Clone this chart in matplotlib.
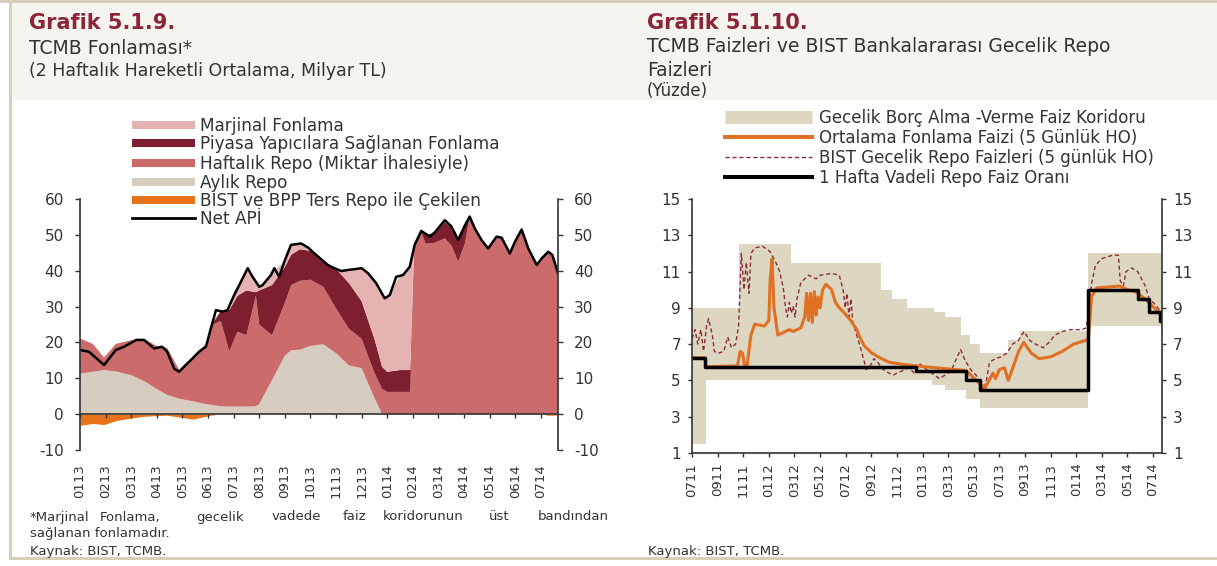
import matplotlib.pyplot as plt
from matplotlib.lines import Line2D
from matplotlib.patches import Rectangle

plt.rcParams['font.family'] = ['DejaVu Sans']
plt.rcParams['axes.unicode_minus'] = False

# --- Grafik 5.1.9: TCMB funding (x = months since Jan 2013) ---
fon_x = [0, 0.5, 0.94, 1.4, 2.0, 2.5, 3.0, 3.4, 3.87, 4.4,
         4.92, 5.2, 5.5, 5.83, 6.15, 6.5, 6.87, 7.0, 7.5, 8.0,
         8.25, 8.6, 9.0, 9.5, 10.0, 10.5, 11.0, 11.5, 11.8, 12.0,
         12.5, 12.9, 13.05, 13.33, 13.5, 13.86, 14.25, 14.51, 14.77, 15.03,
         15.22, 15.42, 15.68, 15.94, 16.27, 16.47, 16.79, 16.99, 17.25, 17.51,
         17.84, 18.03, 18.29, 18.45, 18.67]
aylik_repo = [11.3, 11.8, 12.3, 11.9, 10.9, 9.2, 7.0, 5.4, 4.3, 3.6,
              2.8, 2.5, 2.2, 2.1, 2.1, 2.1, 2.2, 2.8, 9.5, 16.3,
              17.8, 18.0, 19.0, 19.5, 17.0, 13.6, 12.8, 4.5, 0, 0,
              0, 0, 0, 0, 0, 0, 0, 0, 0, 0,
              0, 0, 0, 0, 0, 0, 0, 0, 0, 0,
              0, 0, 0, 0, 0]
haftalik_repo = [9.8, 7.8, 3.5, 7.7, 9.7, 11.8, 12.0, 13.1, 8.1, 12.2,
                 16.2, 22.5, 23.8, 15.4, 20.9, 19.9, 30.8, 22.2, 12.5, 14.7,
                 18.2, 19.2, 18.5, 16.0, 12.5, 10.2, 8.2, 7.0, 7.0, 6.2,
                 6.2, 6.2, 46.5, 50.8, 47.5, 47.8, 49.0, 47.0, 42.5, 47.5,
                 55.0, 51.8, 48.6, 46.2, 49.5, 49.2, 44.8, 48.1, 51.5, 46.2,
                 41.6, 43.4, 45.3, 44.4, 39.3]
piyasa_yapici = [0, 0, 0, 0, 0, 0, 0, 0, 0, 0,
                 0, 0.5, 2.8, 11.5, 10.0, 12.5, 1.0, 9.5, 14.0, 10.0,
                 8.5, 8.8, 8.0, 6.8, 11.0, 12.8, 10.5, 9.5, 6.2, 5.6,
                 6.1, 6.1, 0, 0, 2.5, 2.7, 4.5, 5.0, 5.9, 4.9,
                 0, 0, 0, 0, 0, 0, 0, 0, 0, 0,
                 0, 0, 0, 0, 0]
marjinal = [0, 0, 0, 0, 0, 0, 0, 0, 0, 0.2,
            0.8, 0.5, 0, 0, 2.0, 6.0, 3.0, 1.0, 3.5, 1.5,
            2.7, 1.6, 0.8, 0, 0, 3.6, 9.2, 16.2, 19.8, 20.7,
            26.2, 28.9, 0, 0.2, 0, 0.2, 0.6, 0.3, 0.2, 0.2,
            0, 0, 0, 0, 0, 0, 0, 0, 0, 0,
            0, 0, 0, 0, 0]
bist_bpp_ters = [-3.1, -2.6, -2.9, -1.8, -1.1, -0.6, -0.4, -0.3, -0.8, -1.4,
                 -0.6, -0.2, 0, 0, 0, 0, 0, 0, 0, 0,
                 0, 0, 0, 0, 0, 0, 0, 0, 0, 0,
                 0, 0, 0, 0, 0, 0, 0, 0, 0, 0,
                 0, 0, 0, 0, 0, 0, 0, 0, 0, 0,
                 0, 0, -0.3, -0.3, -0.2]

net_api_x = [0, 0.35, 0.94, 1.4, 1.72, 2.2, 2.5, 2.9, 3.2, 3.4,
             3.68, 3.87, 4.13, 4.39, 4.65, 4.92, 5.11, 5.31, 5.57, 5.76,
             6.02, 6.22, 6.55, 6.74, 7.0, 7.13, 7.46, 7.59, 7.78, 7.98,
             8.24, 8.63, 8.9, 9.16, 9.68, 9.81, 10.2, 10.46, 11.0, 11.25,
             11.57, 11.9, 12.1, 12.35, 12.62, 12.88, 13.07, 13.33, 13.66, 13.86,
             14.25, 14.51, 14.77, 15.03, 15.22, 15.42, 15.68, 15.94, 16.27, 16.47,
             16.79, 16.99, 17.25, 17.51, 17.84, 18.03, 18.29, 18.45, 18.67]
net_api = [17.9, 17.4, 13.7, 17.9, 18.8, 20.7, 20.7, 18.3, 18.8, 17.5,
           12.7, 11.8, 13.7, 15.5, 17.4, 18.8, 23.9, 29.0, 28.6, 29.0,
           33.2, 36.0, 40.7, 38.3, 35.5, 36.0, 38.8, 40.7, 38.3, 42.5,
           47.2, 47.6, 46.5, 44.8, 41.6, 41.1, 39.9, 40.2, 40.7, 39.3,
           36.5, 32.3, 33.2, 38.3, 38.8, 41.1, 47.2, 51.1, 49.5, 50.7,
           54.1, 52.3, 48.6, 52.6, 55.1, 51.8, 48.6, 46.2, 49.5, 49.2,
           44.8, 48.1, 51.5, 46.2, 41.6, 43.4, 45.3, 44.4, 39.3]

ay_etiket = ['0113', '0213', '0313', '0413', '0513', '0613', '0713', '0813', '0913', '1013',
             '1113', '1213', '0114', '0214', '0314', '0414', '0514', '0614', '0714']

# --- Grafik 5.1.10: rates (x = months since Jul 2011) ---
koridor_x = [0, 1.08, 3.70, 7.75, 14.75, 15.65, 16.77, 18.72, 18.87, 19.77,
             20.97, 21.42, 21.72, 22.48, 24.64, 25.63, 30.89, 36.7]
koridor_alt = [1.5, 5.0, 5.0, 5.0, 5.0, 5.0, 5.0, 4.75, 4.75, 4.5,
               4.5, 4.0, 4.0, 3.5, 3.5, 3.5, 8.0, 8.0]
koridor_ust = [9.0, 9.0, 12.5, 11.5, 10.0, 9.5, 9.0, 9.0, 8.75, 8.5,
               7.5, 7.5, 7.0, 6.5, 7.25, 7.75, 12.0, 12.0]

fonlama_x = [0, 1.0, 1.1, 3.55, 3.76, 3.95, 4.1, 4.3, 4.6, 4.9,
             5.65, 6.0, 6.1, 6.25, 6.4, 6.7, 7.0, 7.6, 7.9, 8.5,
             8.8, 8.95, 9.1, 9.25, 9.4, 9.55, 9.7, 9.85, 10.0, 10.2,
             10.46, 10.9, 11.2, 11.5, 11.8, 12.4, 12.86, 13.16, 13.46, 14.06,
             14.8, 15.4, 16.3, 17.5, 19.0, 20.5, 21.4, 21.9, 22.5, 22.9,
             23.2, 23.5, 23.7, 24.0, 24.4, 24.7, 25.2, 25.5, 25.9, 26.5,
             27.1, 28.0, 28.9, 29.8, 30.7, 30.95, 31.2, 31.6, 33.4, 34.0,
             34.6, 35.2, 35.8, 36.4, 36.7]
fonlama_faizi = [6.25, 6.25, 5.75, 5.8, 6.6, 6.5, 5.8, 5.8, 7.5, 8.1,
                 8.0, 8.3, 10.5, 11.7, 9.0, 7.5, 7.6, 7.8, 7.7, 7.9,
                 8.5, 9.8, 8.3, 9.8, 8.2, 9.9, 8.6, 9.6, 9.0, 10.0,
                 10.3, 10.0, 9.3, 9.0, 8.8, 8.3, 7.8, 7.3, 6.9, 6.5,
                 6.2, 6.0, 5.9, 5.8, 5.7, 5.6, 5.55, 5.2, 4.8, 4.6,
                 5.0, 5.4, 5.1, 5.6, 5.7, 5.0, 6.0, 6.6, 7.1, 6.5,
                 6.2, 6.3, 6.6, 7.0, 7.2, 7.3, 9.6, 10.1, 10.2, 10.0,
                 9.9, 9.6, 9.2, 8.8, 8.5]

bist_repo_x = [0, 0.24, 0.45, 0.69, 0.9, 1.14, 1.29, 1.59, 1.74, 2.04,
               2.49, 2.79, 3.09, 3.4, 3.64, 3.85, 4.06, 4.24, 4.45, 4.6,
               4.9, 5.5, 6.1, 6.25, 6.55, 6.85, 7.15, 7.3, 7.45, 7.6,
               7.75, 7.9, 8.05, 8.2, 8.5, 8.8, 9.1, 9.7, 10.0, 10.9,
               11.5, 11.8, 11.96, 12.1, 12.26, 12.41, 12.56, 12.86, 13.16, 13.46,
               13.61, 13.91, 14.21, 14.51, 14.81, 15.11, 15.72, 16.32, 16.92, 17.37,
               17.82, 18.12, 18.72, 19.32, 19.77, 20.22, 20.52, 20.97, 21.27, 21.57,
               21.87, 22.18, 22.48, 22.78, 22.99, 23.23, 23.68, 24.13, 24.58, 25.03,
               25.48, 25.93, 26.38, 26.83, 27.43, 27.88, 28.34, 28.94, 29.54, 30.44,
               30.8, 31.19, 31.49, 31.94, 32.84, 33.29, 33.44, 33.68, 33.89, 34.34,
               34.8, 35.1, 35.4, 35.7, 36.15, 36.6]
bist_repo = [7.3, 7.8, 7.0, 7.8, 6.6, 8.0, 8.4, 7.5, 6.6, 6.5,
             6.6, 7.4, 6.8, 7.0, 8.0, 12.0, 10.0, 11.5, 9.8, 12.0,
             12.3, 12.4, 12.1, 11.9, 11.5, 11.0, 10.0, 9.0, 8.5, 9.3,
             8.7, 9.1, 8.5, 9.5, 10.4, 10.6, 10.8, 10.6, 10.8, 10.9,
             10.8, 10.0, 9.0, 9.8, 8.5, 9.5, 8.2, 7.5, 6.8, 6.0,
             5.6, 5.8, 6.2, 6.0, 5.7, 5.5, 5.3, 5.5, 5.7, 5.4,
             5.9, 5.7, 5.4, 5.1, 5.3, 5.5, 6.0, 6.7, 6.2, 5.8,
             5.5, 5.3, 4.8, 4.5, 5.0, 6.0, 6.2, 6.3, 6.5, 7.0,
             7.2, 7.7, 7.2, 7.0, 6.8, 7.1, 7.5, 7.7, 7.8, 7.8,
             7.9, 10.3, 11.3, 11.7, 11.9, 11.9, 10.5, 10.2, 11.0, 11.2,
             11.0, 10.6, 10.2, 9.5, 9.2, 8.8]

hafta_repo_x = [0, 1.05, 17.46, 21.4, 22.48, 30.89, 34.8, 35.7, 36.55, 36.7]
hafta_repo_faiz = [6.25, 5.75, 5.5, 5.0, 4.5, 10.0, 9.5, 8.75, 8.25, 8.25]

ay_etiket2 = ['0711', '0911', '1111', '0112', '0312', '0512', '0712', '0912', '1112', '0113',
              '0313', '0513', '0713', '0913', '1113', '0114', '0314', '0514', '0714']

W, H = 1217, 566
def fx(x):
    return x / W
def fy(y):
    return 1 - y / H

fig = plt.figure(figsize=(W / 100, H / 100), dpi=100)

# frame and header band
tan = '#d8cfbb'
fig.add_artist(Rectangle((fx(12), fy(100)), 1, fy(3) - fy(100), transform=fig.transFigure,
                         facecolor='#f5f4ef', edgecolor='none', zorder=0))
fig.add_artist(Rectangle((0, fy(3)), 1, 3 / H, transform=fig.transFigure, facecolor=tan, edgecolor='none'))
fig.add_artist(Rectangle((fx(9), fy(560)), 3 / W, fy(0) - fy(560), transform=fig.transFigure,
                         facecolor=tan, edgecolor='none'))
fig.add_artist(Rectangle((fx(9), fy(560)), 1, 3 / H, transform=fig.transFigure, facecolor=tan, edgecolor='none'))

title_red = '#8c2535'
txt = '#333333'
fig.text(fx(29), fy(23), 'Grafik 5.1.9.', fontsize=15, fontweight='bold', color=title_red, va='center')
fig.text(fx(29), fy(48), 'TCMB Fonlaması*', fontsize=13.5, color=txt, va='center')
fig.text(fx(29), fy(71), '(2 Haftalık Hareketli Ortalama, Milyar TL)', fontsize=12.5, color=txt, va='center')
fig.text(fx(647), fy(23), 'Grafik 5.1.10.', fontsize=15, fontweight='bold', color=title_red, va='center')
fig.text(fx(647), fy(47), 'TCMB Faizleri ve BIST Bankalararası Gecelik Repo', fontsize=13.5, color=txt, va='center')
fig.text(fx(647), fy(70), 'Faizleri', fontsize=13.5, color=txt, va='center')
fig.text(fx(647), fy(91), '(Yüzde)', fontsize=12, color=txt, va='center')

# footnotes
kelimeler = ['*Marjinal', 'Fonlama,', 'gecelik', 'vadede', 'faiz', 'koridorunun', 'üst', 'bandından']
kelime_x = [30, 100, 196, 272, 343, 383, 489, 538]
for w, xx in zip(kelimeler, kelime_x):
    fig.text(fx(xx), fy(517), w, fontsize=9.5, color=txt, va='center')
fig.text(fx(30), fy(534), 'sağlanan fonlamadır.', fontsize=9.5, color=txt, va='center')
fig.text(fx(30), fy(551), 'Kaynak: BIST, TCMB.', fontsize=9.5, color=txt, va='center')
fig.text(fx(648), fy(551), 'Kaynak: BIST, TCMB.', fontsize=9.5, color=txt, va='center')

# colours
c_marj = '#e6b3b3'
c_piy = '#7d1f2e'
c_haft = '#cb6b6b'
c_ayl = '#d6cdc0'
c_bist = '#e8711c'
c_kor = '#ddd6c1'
c_fon = '#e07022'
c_rep = '#8b2c3c'
spine_c = '#333333'

# ---- left chart ----
ax1 = fig.add_axes([fx(80), fy(450), fx(558) - fx(80), fy(199) - fy(450)])
ax1.spines['top'].set_visible(False)
ax1.spines['bottom'].set_position(('data', 0))
for s in ['left', 'right', 'bottom']:
    ax1.spines[s].set_color(spine_c)
    ax1.spines[s].set_linewidth(1.2)
ax1.stackplot(fon_x, aylik_repo, haftalik_repo, piyasa_yapici, marjinal,
              colors=[c_ayl, c_haft, c_piy, c_marj], linewidth=0)
ax1.fill_between(fon_x, bist_bpp_ters, 0, color=c_bist, linewidth=0)
ax1.plot(net_api_x, net_api, color='black', lw=1.8)
ax1.set_xlim(0, 18.67)
ax1.set_ylim(-10, 60)
ax1.set_yticks(range(-10, 61, 10))
ax1.set_xticks(range(len(ay_etiket)))
ax1.set_xticklabels(ay_etiket, fontsize=9.5, color=txt)
ax1.tick_params(axis='y', direction='out', length=3.6, width=1, color=spine_c,
                left=True, right=True, labelleft=True, labelright=True,
                labelsize=11, labelcolor=txt, pad=8)
ax1.tick_params(axis='x', direction='out', length=3, width=1, color=spine_c,
                pad=33, labelrotation=90)
ax1.set_facecolor('none')

leg1 = [Line2D([], [], color=c_marj, lw=5.8, solid_capstyle='butt'),
        Line2D([], [], color=c_piy, lw=5.8, solid_capstyle='butt'),
        Line2D([], [], color=c_haft, lw=5.8, solid_capstyle='butt'),
        Line2D([], [], color=c_ayl, lw=5.8, solid_capstyle='butt'),
        Line2D([], [], color=c_bist, lw=5.8, solid_capstyle='butt'),
        Line2D([], [], color='black', lw=2.0)]
lab1 = ['Marjinal Fonlama', 'Piyasa Yapıcılara Sağlanan Fonlama', 'Haftalık Repo (Miktar İhalesiyle)',
        'Aylık Repo', 'BIST ve BPP Ters Repo ile Çekilen', 'Net APİ']
fig.legend(leg1, lab1, loc='upper left', bbox_to_anchor=(fx(132), fy(117)),
           frameon=False, fontsize=12.2, handlelength=3.7, handletextpad=0.3,
           labelspacing=0.01, borderpad=0, borderaxespad=0, labelcolor=txt)

# ---- right chart ----
ax2 = fig.add_axes([fx(692), fy(453), fx(1162) - fx(692), fy(199) - fy(453)])
ax2.spines['top'].set_visible(False)
for s in ['left', 'right', 'bottom']:
    ax2.spines[s].set_color(spine_c)
    ax2.spines[s].set_linewidth(1.2)
ax2.fill_between(koridor_x, koridor_alt, koridor_ust, step='post', color=c_kor, linewidth=0)
ax2.plot(bist_repo_x, bist_repo, color=c_rep, lw=1.0, dashes=(3, 2))
ax2.plot(fonlama_x, fonlama_faizi, color=c_fon, lw=2.2)
ax2.step(hafta_repo_x, hafta_repo_faiz, where='post', color='black', lw=2.5)
ax2.set_xlim(0, 36.7)
ax2.set_ylim(1, 15)
ax2.set_yticks(range(1, 16, 2))
ax2.set_xticks(range(0, 37, 2))
ax2.set_xticklabels(ay_etiket2, fontsize=9.5, color=txt)
ax2.tick_params(axis='y', direction='out', length=3, width=1, color=spine_c,
                left=True, right=True, labelleft=True, labelright=True,
                labelsize=11, labelcolor=txt, pad=5)
ax2.tick_params(axis='x', direction='out', length=3, width=1, color=spine_c,
                pad=4, labelrotation=90)
ax2.set_facecolor('none')

leg2 = [Line2D([], [], color=c_kor, lw=9.4, solid_capstyle='butt'),
        Line2D([], [], color=c_fon, lw=2.9),
        Line2D([], [], color=c_rep, lw=1.0, dashes=(3, 2)),
        Line2D([], [], color='black', lw=2.9)]
lab2 = ['Gecelik Borç Alma -Verme Faiz Koridoru', 'Ortalama Fonlama Faizi (5 Günlük HO)',
        'BIST Gecelik Repo Faizleri (5 günlük HO)', '1 Hafta Vadeli Repo Faiz Oranı']
fig.legend(leg2, lab2, loc='upper left', bbox_to_anchor=(fx(725), fy(109)),
           frameon=False, fontsize=12, handlelength=5.2, handletextpad=0.45,
           labelspacing=0.12, borderpad=0, borderaxespad=0, labelcolor=txt)

fig.savefig('out.png', dpi=100)
